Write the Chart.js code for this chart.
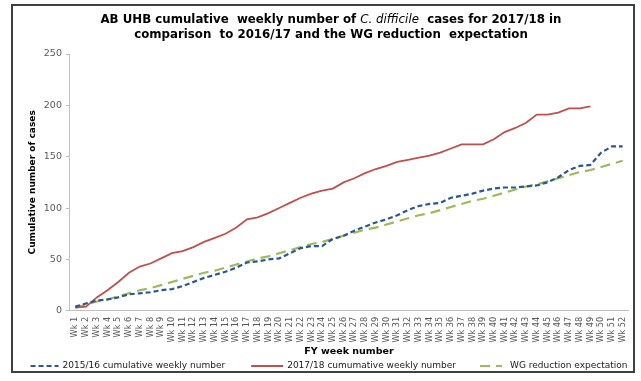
<!DOCTYPE html>
<html>
<head>
<meta charset="utf-8">
<script src="https://cdn.jsdelivr.net/npm/chart.js@4/dist/chart.umd.min.js"></script>
<style>
  html, body { margin: 0; padding: 0; background: #fff; }
  #wrap { width: 641px; height: 381px; position: relative; }
</style>
</head>
<body>
<div id="wrap"><canvas id="c" width="641" height="381"></canvas></div>
<script>
// FY week categories
const weeks = [
  'Wk 1','Wk 2','Wk 3','Wk 4','Wk 5','Wk 6','Wk 7','Wk 8','Wk 9','Wk 10',
  'Wk 11','Wk 12','Wk 13','Wk 14','Wk 15','Wk 16','Wk 17','Wk 18','Wk 19','Wk 20',
  'Wk 21','Wk 22','Wk 23','Wk 24','Wk 25','Wk 26','Wk 27','Wk 28','Wk 29','Wk 30',
  'Wk 31','Wk 32','Wk 33','Wk 34','Wk 35','Wk 36','Wk 37','Wk 38','Wk 39','Wk 40',
  'Wk 41','Wk 42','Wk 43','Wk 44','Wk 45','Wk 46','Wk 47','Wk 48','Wk 49','Wk 50',
  'Wk 51','Wk 52'
];

// Cumulative case counts
const cumulative1516 = [
  4, 7, 10, 11, 13, 16, 17, 18, 20, 21,
  24, 28, 32, 35, 38, 42, 47, 48, 50, 51,
  56, 61, 63, 63, 70, 73, 78, 82, 86, 89,
  93, 98, 102, 104, 105, 110, 112, 114, 117, 119,
  120, 120, 121, 122, 125, 130, 137, 141, 142, 154,
  160, 160
];
const cumulative1718 = [
  3, 4, 13, 20, 28, 37, 43, 46, 51, 56,
  58, 62, 67, 71, 75, 81, 89, 91, 95, 100,
  105, 110, 114, 117, 119, 125, 129, 134, 138, 141,
  145, 147, 149, 151, 154, 158, 162, 162, 162, 167,
  174, 178, 183, 191, 191, 193, 197, 197, 199
];
const wgExpectation = [
  3, 6, 9, 11, 14, 17, 20, 22, 25, 28,
  31, 34, 37, 39, 42, 45, 48, 51, 53, 56,
  59, 62, 65, 67, 70, 73, 76, 79, 81, 84,
  87, 90, 93, 95, 98, 101, 104, 107, 109, 112,
  115, 118, 121, 123, 126, 129, 132, 135, 137, 140,
  143, 146
];

const seriesLabels = [
  '2015/16 cumulative weekly number',
  '2017/18 cumumative weekly number',
  'WG reduction expectation'
];

// Title: first line has an italic organism name
const titleLine1 = ['AB UHB cumulative  weekly number of ', 'C. difficile', '  cases for 2017/18 in'];
const titleLine2 = 'comparison  to 2016/17 and the WG reduction  expectation';

const FONT = '"DejaVu Sans", Verdana, sans-serif';

// White page, dark frame and the two-line title
const frameAndTitle = {
  id: 'frameAndTitle',
  beforeDraw(chart) {
    const ctx = chart.ctx;
    ctx.save();
    ctx.fillStyle = '#ffffff';
    ctx.fillRect(0, 0, chart.width, chart.height);
    ctx.strokeStyle = '#404040';
    ctx.lineWidth = 2;
    ctx.strokeRect(12, 5, 622, 367);
    ctx.restore();
  },
  afterDraw(chart, args, o) {
    const ctx = chart.ctx;
    ctx.save();
    ctx.fillStyle = '#000';
    ctx.textBaseline = 'middle';
    const fonts = [
      'bold ' + o.size + 'px ' + FONT,
      'italic ' + o.size + 'px ' + FONT,
      'bold ' + o.size + 'px ' + FONT
    ];
    let w = 0;
    titleLine1.forEach((t, i) => { ctx.font = fonts[i]; w += ctx.measureText(t).width; });
    let x = o.cx - w / 2;
    titleLine1.forEach((t, i) => {
      ctx.font = fonts[i];
      ctx.textAlign = 'left';
      ctx.fillText(t, x, o.y1);
      x += ctx.measureText(t).width;
    });
    ctx.font = fonts[0];
    ctx.textAlign = 'center';
    ctx.fillText(titleLine2, o.cx, o.y2);
    ctx.restore();
  }
};

// Legend row with line samples under the axis title
const lineLegend = {
  id: 'lineLegend',
  afterDraw(chart, args, o) {
    const ctx = chart.ctx;
    ctx.save();
    ctx.font = o.size + 'px ' + FONT;
    ctx.textBaseline = 'middle';
    ctx.textAlign = 'left';
    const items = chart.data.datasets.map((ds, i) => ({
      ds, sample: o.samples[i], tg: o.textGaps[i], w: ctx.measureText(ds.label).width
    }));
    const total = items.reduce((s, it) => s + it.sample + it.tg + it.w, 0) +
      o.gaps.reduce((s, g) => s + g, 0);
    let x = o.cx - total / 2;
    items.forEach((it, i) => {
      ctx.strokeStyle = it.ds.borderColor;
      ctx.lineWidth = it.ds.borderWidth;
      ctx.setLineDash(it.ds.borderDash || []);
      ctx.beginPath();
      ctx.moveTo(x, o.y);
      ctx.lineTo(x + it.sample, o.y);
      ctx.stroke();
      ctx.setLineDash([]);
      x += it.sample + it.tg;
      ctx.fillStyle = '#1a1a1a';
      ctx.fillText(it.ds.label, x, o.y);
      x += it.w + (o.gaps[i] || 0);
    });
    ctx.restore();
  }
};

new Chart(document.getElementById('c'), {
  type: 'line',
  data: {
    labels: weeks,
    datasets: [
      {
        label: seriesLabels[0],
        data: cumulative1516,
        borderColor: '#2f5597',
        borderWidth: 2.2,
        borderDash: [5, 3],
        pointRadius: 0,
        tension: 0,
        fill: false
      },
      {
        label: seriesLabels[1],
        data: cumulative1718,
        borderColor: '#c0504d',
        borderWidth: 1.8,
        pointRadius: 0,
        tension: 0,
        fill: false
      },
      {
        label: seriesLabels[2],
        data: wgExpectation,
        borderColor: '#9bbb59',
        borderWidth: 2.2,
        borderDash: [10, 6],
        pointRadius: 0,
        tension: 0,
        fill: false
      }
    ]
  },
  options: {
    responsive: false,
    animation: false,
    devicePixelRatio: 1,
    layout: { padding: { top: 54, left: 27, right: 13, bottom: 24 } },
    plugins: {
      legend: { display: false },
      title: { display: false },
      tooltip: { enabled: false },
      frameAndTitle: { size: 11.8, cx: 331, y1: 19.5, y2: 35 },
      lineLegend: {
        size: 9, cx: 329, y: 366,
        samples: [28, 32, 22], textGaps: [4, 4, 8], gaps: [26, 24]
      }
    },
    scales: {
      x: {
        type: 'category',
        offset: true,
        grid: { display: false, drawTicks: false },
        border: { display: true, color: '#bfbfbf', width: 1 },
        ticks: {
          autoSkip: false,
          minRotation: 90,
          maxRotation: 90,
          padding: 6,
          color: '#595959',
          font: { family: FONT, size: 8.2 }
        },
        title: {
          display: true,
          text: 'FY week number',
          color: '#000',
          padding: { top: -3, bottom: 0 },
          font: { family: FONT, size: 9.5, weight: 'bold' }
        }
      },
      y: {
        min: 0,
        max: 250,
        ticks: {
          stepSize: 50,
          padding: 4,
          color: '#595959',
          font: { family: FONT, size: 9.5 }
        },
        grid: { drawOnChartArea: false, tickLength: 4, color: '#bfbfbf' },
        border: { display: true, color: '#bfbfbf', width: 1 },
        title: {
          display: true,
          text: 'Cumulative number of cases',
          color: '#000',
          padding: { top: 0, bottom: 2 },
          font: { family: FONT, size: 9, weight: 'bold' }
        }
      }
    }
  },
  plugins: [frameAndTitle, lineLegend]
});
</script>
</body>
</html>
